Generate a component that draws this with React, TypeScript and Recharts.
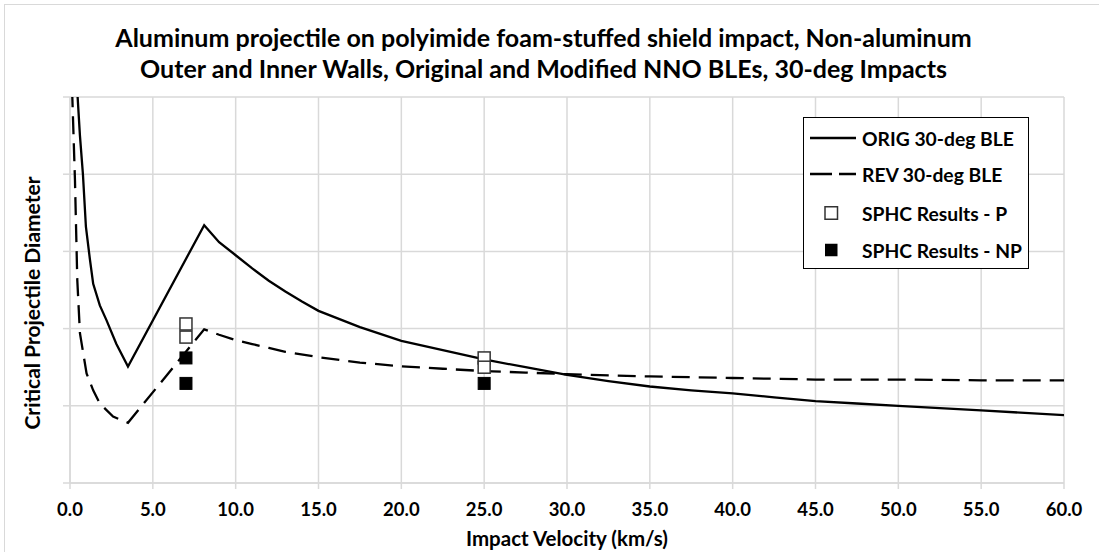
import React from 'react';
import { ComposedChart, Line, Scatter, XAxis, YAxis, CartesianGrid } from 'recharts';

// ORIG 30-deg BLE (solid)
const origVel = [0.3, 0.46, 0.6, 0.78, 0.96, 1.2, 1.4, 1.8, 2.2, 2.8, 3.5, 8.1, 9, 10, 11, 12, 13, 14, 15, 17.5, 20, 22.5, 25, 27.5, 30, 32.5, 35, 37.5, 40, 42.5, 45, 47.5, 50, 55, 60];
const origDia = [6.5, 5.0, 4.5, 4.0, 3.32, 2.9, 2.58, 2.3, 2.11, 1.8, 1.51, 3.34, 3.12, 2.95, 2.78, 2.62, 2.48, 2.35, 2.23, 2.02, 1.84, 1.72, 1.6, 1.5, 1.4, 1.32, 1.25, 1.2, 1.16, 1.11, 1.06, 1.03, 1.0, 0.94, 0.88];

// REV 30-deg BLE (dashed)
const revVel = [0.08, 0.14, 0.3, 0.44, 0.6, 1.0, 1.4, 1.8, 2.6, 3.5, 8.1, 9, 10, 11, 12, 13, 15, 17.5, 20, 22.5, 25, 27.5, 30, 35, 40, 45, 50, 55, 60];
const revDia = [6.5, 5.0, 3.92, 2.63, 1.94, 1.42, 1.2, 1.03, 0.86, 0.78, 1.99, 1.92, 1.85, 1.8, 1.75, 1.7, 1.63, 1.56, 1.51, 1.48, 1.45, 1.43, 1.41, 1.38, 1.36, 1.34, 1.34, 1.33, 1.33];

// SPHC results
const penVel = [7, 7, 25, 25];
const penDia = [2.06, 1.89, 1.62, 1.5];
const noPenVel = [7, 7, 25];
const noPenDia = [1.62, 1.29, 1.29];

const xTicks = [0, 5, 10, 15, 20, 25, 30, 35, 40, 45, 50, 55, 60];
const yTicks = [0, 1, 2, 3, 4, 5];

const titleLines = [
  'Aluminum projectile on polyimide foam-stuffed shield impact, Non-aluminum',
  'Outer and Inner Walls, Original and Modified NNO BLEs, 30-deg Impacts',
];
const xTitle = 'Impact Velocity (km/s)';
const yTitle = 'Critical Projectile Diameter';
const seriesNames = ['ORIG 30-deg BLE', 'REV 30-deg BLE', 'SPHC Results - P', 'SPHC Results - NP'];

const zip = (xs: number[], ys: number[]) => xs.map((v, i) => ({ v, d: ys[i] }));
const origData = zip(origVel, origDia);
const revData = zip(revVel, revDia);
const penData = zip(penVel, penDia);
const noPenData = zip(noPenVel, noPenDia);

const FONT = 'Lato, "Open Sans", sans-serif';
const DASH = '18 9';

const OpenSquare = (p: any) => (
  <rect x={p.cx - 6} y={p.cy - 6} width={12} height={12} fill="#fff" stroke="#333" strokeWidth={1.5} />
);
const FilledSquare = (p: any) => (
  <rect x={p.cx - 6} y={p.cy - 6} width={12} height={12} fill="#000" stroke="#000" strokeWidth={1} />
);

const LegendIcon = ({ i }: { i: number }) => (
  <svg width={50} height={14} style={{ display: 'block' }}>
    {i === 0 && <line x1={2} y1={7} x2={48} y2={7} stroke="#000" strokeWidth={2.5} />}
    {i === 1 && <line x1={2} y1={7} x2={48} y2={7} stroke="#000" strokeWidth={2.5} strokeDasharray="22 7" />}
    {i === 2 && <rect x={17} y={0.75} width={12.5} height={12.5} fill="#fff" stroke="#333" strokeWidth={1.5} />}
    {i === 3 && <rect x={17} y={0.75} width={12.5} height={12.5} fill="#000" />}
  </svg>
);

export default function App() {
  const legendY = [138, 174, 213, 250];
  return (
    <div style={{ position: 'absolute', left: 0, top: 0, width: 1099, height: 552, background: '#fff', overflow: 'hidden', fontFamily: FONT }}>
      <div style={{ position: 'absolute', left: 4, top: 4, width: 1200, height: 600, border: '1px solid #d9d9d9' }} />
      {titleLines.map((t, i) => (
        <div key={i} style={{ position: 'absolute', left: 0, width: 1087, top: (i === 0 ? 37 : 68) - 15, height: 30, lineHeight: '30px', textAlign: 'center', fontSize: 25, fontWeight: 700, color: '#000', whiteSpace: 'nowrap' }}>{t}</div>
      ))}
      <div style={{ position: 'absolute', left: 0, top: 0 }}>
        <ComposedChart width={1099} height={552} margin={{ top: 97, right: 35, bottom: 19, left: 60 }}>
          <CartesianGrid stroke="#d9d9d9" strokeWidth={1.5} />
          <XAxis
            type="number"
            dataKey="v"
            domain={[0, 60]}
            ticks={xTicks}
            interval={0}
            allowDataOverflow
            height={50}
            tickSize={6}
            tickMargin={14}
            stroke="#d9d9d9"
            strokeWidth={1.5}
            tickFormatter={(v: number) => v.toFixed(1)}
            tick={{ fill: '#000', fontSize: 18.5, fontWeight: 700, fontFamily: FONT }}
          />
          <YAxis
            type="number"
            dataKey="d"
            domain={[0, 5]}
            ticks={yTicks}
            allowDataOverflow
            width={10}
            tickSize={7}
            stroke="#d9d9d9"
            strokeWidth={1.5}
            tickFormatter={() => ''}
          />
          <Line data={origData} dataKey="d" name={seriesNames[0]} type="linear" stroke="#000" strokeWidth={2.3} dot={false} isAnimationActive={false} />
          <Line data={revData} dataKey="d" name={seriesNames[1]} type="linear" stroke="#000" strokeWidth={2.3} strokeDasharray={DASH} dot={false} isAnimationActive={false} />
          <Scatter data={penData} dataKey="d" name={seriesNames[2]} shape={OpenSquare} isAnimationActive={false} />
          <Scatter data={noPenData} dataKey="d" name={seriesNames[3]} shape={FilledSquare} isAnimationActive={false} />
        </ComposedChart>
      </div>
      <div style={{ position: 'absolute', left: 0, width: 1134, top: 527, textAlign: 'center', fontSize: 20.5, fontWeight: 700, color: '#000', lineHeight: '22px' }}>{xTitle}</div>
      <div style={{ position: 'absolute', left: 32 - 150, top: 303 - 12, width: 300, height: 24, lineHeight: '24px', textAlign: 'center', transform: 'rotate(-90deg)', fontSize: 21, fontWeight: 700, color: '#000', whiteSpace: 'nowrap' }}>{yTitle}</div>
      <div style={{ position: 'absolute', left: 803, top: 117, width: 226, height: 152, boxSizing: 'border-box', border: '1.5px solid #000', background: '#fff' }} />
      {seriesNames.map((n, i) => (
        <div key={n} style={{ position: 'absolute', left: 808, top: legendY[i] - 12, height: 24, display: 'flex', alignItems: 'center' }}>
          <LegendIcon i={i} />
          <span style={{ marginLeft: 4, fontSize: 19.3, fontWeight: 700, color: '#000', whiteSpace: 'nowrap' }}>{n}</span>
        </div>
      ))}
    </div>
  );
}
